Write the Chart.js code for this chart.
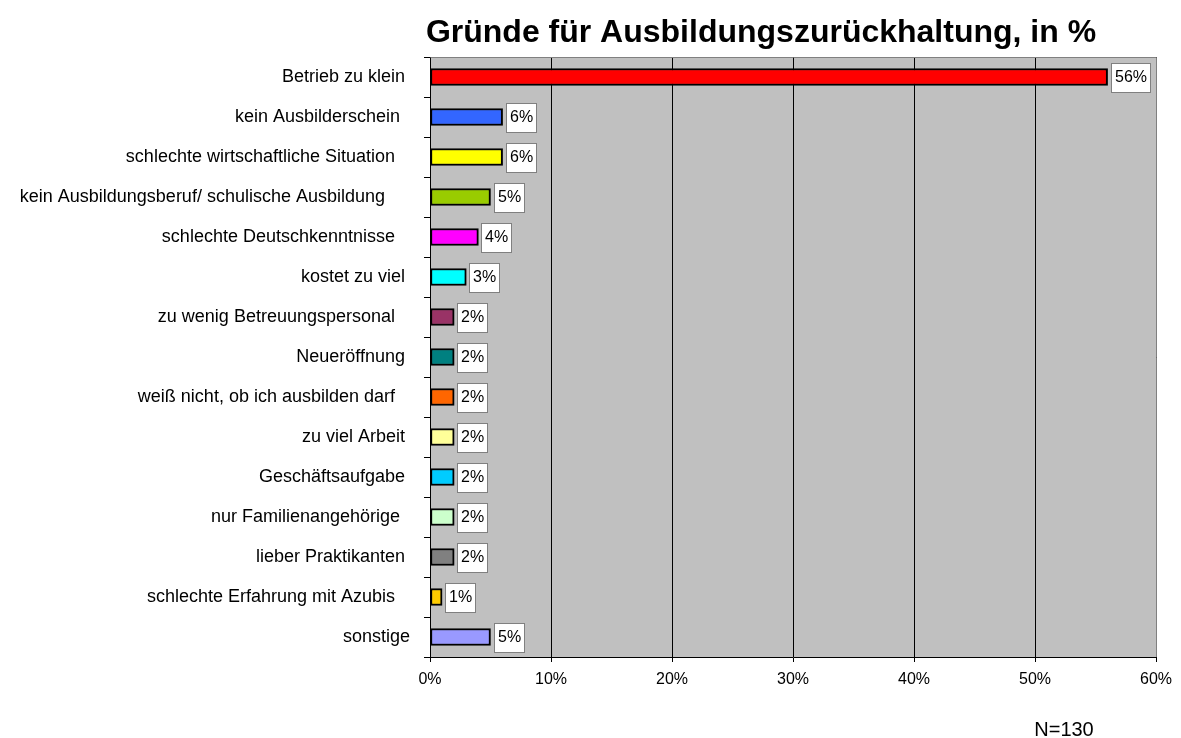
<!DOCTYPE html>
<html>
<head>
<meta charset="utf-8">
<script src="https://cdn.jsdelivr.net/npm/chart.js@4/dist/chart.umd.min.js"></script>
<style>
  html, body { margin: 0; padding: 0; background: #fff; }
  #wrap { width: 1181px; height: 738px; }
</style>
</head>
<body>
<div id="wrap"><canvas id="grafik" width="1181" height="738"></canvas></div>
<script>
// veriler
const kategoriler = [
  'Betrieb zu klein ',
  'kein Ausbilderschein  ',
  'schlechte wirtschaftliche Situation   ',
  'kein Ausbildungsberuf/ schulische Ausbildung     ',
  'schlechte Deutschkenntnisse   ',
  'kostet zu viel ',
  'zu wenig Betreuungspersonal   ',
  'Neueröffnung ',
  'weiß nicht, ob ich ausbilden darf   ',
  'zu viel Arbeit ',
  'Geschäftsaufgabe ',
  'nur Familienangehörige  ',
  'lieber Praktikanten ',
  'schlechte Erfahrung mit Azubis   ',
  'sonstige'
];
const anteile = [56, 6, 6, 5, 4, 3, 2, 2, 2, 2, 2, 2, 2, 1, 5];
const barFarben = [
  '#ff0000', '#3366ff', '#ffff00', '#99cc00', '#ff00ff',
  '#00ffff', '#993366', '#008080', '#ff6600', '#ffff99',
  '#00ccff', '#ccffcc', '#808080', '#ffcc00', '#9999ff'
];
const xTicks = [0, 10, 20, 30, 40, 50, 60];
const titel = 'Gründe für Ausbildungszurückhaltung, in %';
const fussnote = 'N=130';

const FONT = '"Liberation Sans", Arial, sans-serif';

// grauer hintergrund der zeichenflaeche
const plotHintergrund = {
  id: 'plotHintergrund',
  beforeDraw: (chart) => {
    const { ctx, chartArea } = chart;
    ctx.save();
    ctx.fillStyle = '#c0c0c0';
    ctx.fillRect(chartArea.left, chartArea.top, chartArea.right - chartArea.left, chartArea.bottom - chartArea.top);
    ctx.restore();
  },
  // grauer rahmen oben und rechts, ueber dem letzten gitter
  beforeDatasetsDraw: (chart) => {
    const { ctx, chartArea } = chart;
    const l = Math.round(chartArea.left) + 0.5;
    const t = Math.round(chartArea.top) + 0.5;
    const r = Math.round(chartArea.right) + 0.5;
    const b = Math.round(chartArea.bottom);
    ctx.save();
    ctx.strokeStyle = '#808080';
    ctx.lineWidth = 1;
    ctx.beginPath();
    ctx.moveTo(l, t);
    ctx.lineTo(r, t);
    ctx.lineTo(r, b);
    ctx.stroke();
    ctx.restore();
  }
};

// weisse boxen mit den prozentwerten
const wertBoxen = {
  id: 'wertBoxen',
  afterDatasetsDraw: (chart) => {
    const { ctx } = chart;
    const meta = chart.getDatasetMeta(0);
    ctx.save();
    ctx.font = '16px ' + FONT;
    ctx.textBaseline = 'middle';
    ctx.textAlign = 'left';
    meta.data.forEach((bar, i) => {
      const text = anteile[i] + '%';
      const w = Math.round(ctx.measureText(text).width + 7);
      const h = 29;
      const bx = Math.round(bar.x + 3) + 0.5;
      const by = Math.round(bar.y - h / 2) + 0.5;
      ctx.fillStyle = '#ffffff';
      ctx.fillRect(bx, by, w, h);
      ctx.strokeStyle = '#808080';
      ctx.lineWidth = 1;
      ctx.strokeRect(bx, by, w, h);
      ctx.fillStyle = '#000000';
      ctx.fillText(text, bx + 3.5, bar.y + 1);
    });
    ctx.restore();
  }
};

// titel und fussnote
const texte = {
  id: 'texte',
  afterDraw: (chart) => {
    const { ctx } = chart;
    ctx.save();
    ctx.fillStyle = '#000000';
    ctx.textBaseline = 'alphabetic';
    ctx.textAlign = 'center';
    ctx.font = 'bold 32px ' + FONT;
    ctx.fillText(titel, 761, 42);
    ctx.font = '20px ' + FONT;
    ctx.fillText(fussnote, 1064, 736);
    ctx.restore();
  }
};

const grafik = new Chart(document.getElementById('grafik'), {
  type: 'bar',
  data: {
    labels: kategoriler,
    datasets: [{
      data: anteile,
      backgroundColor: barFarben,
      borderColor: '#000000',
      borderWidth: 2,
      borderSkipped: false,
      barThickness: 17
    }]
  },
  options: {
    indexAxis: 'y',
    responsive: false,
    animation: false,
    events: [],
    layout: {
      padding: { top: 57, right: 25, bottom: 40, left: 0 }
    },
    scales: {
      x: {
        min: 0,
        max: 60,
        afterBuildTicks: (scale) => {
          scale.ticks = xTicks.map(v => ({ value: v }));
        },
        afterFit: (scale) => { scale.height = 41; },
        grid: {
          color: '#000000',
          lineWidth: 1,
          tickLength: 5,
          drawOnChartArea: true
        },
        border: { color: '#000000', width: 1 },
        ticks: {
          color: '#000000',
          font: { family: FONT, size: 16 },
          padding: 8,
          maxRotation: 0,
          callback: (v) => v + '%'
        }
      },
      y: {
        afterFit: (scale) => { scale.width = 430; },
        grid: {
          offset: true,
          color: '#000000',
          tickLength: 6,
          drawOnChartArea: false
        },
        border: { color: '#000000', width: 1 },
        ticks: {
          color: '#000000',
          font: { family: FONT, size: 18 },
          padding: 14,
          autoSkip: false
        }
      }
    },
    plugins: {
      legend: { display: false },
      title: { display: false },
      tooltip: { enabled: false }
    }
  },
  plugins: [plotHintergrund, wertBoxen, texte]
});
</script>
</body>
</html>
